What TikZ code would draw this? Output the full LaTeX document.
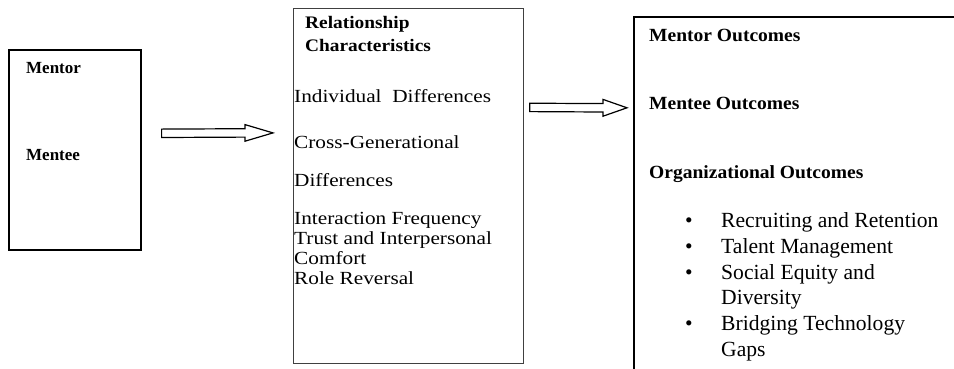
\documentclass[tikz,border=0pt]{standalone}
\usepackage{fontspec}
\setmainfont{Liberation Serif}
\newfontfamily\widebody[FakeStretch=1.15]{Liberation Serif}
\newfontfamily\widebold[FakeStretch=1.1]{Liberation Serif}
\newfontfamily\slightbold[FakeStretch=1.05]{Liberation Serif}
\usetikzlibrary{calc}
\begin{document}
\begin{tikzpicture}[x=1pt,y=-1pt,
  thickbox/.style={draw=black,line width=1.6pt,inner sep=0pt,anchor=north west},
  thinbox/.style={draw=black!75,line width=0.8pt,inner sep=0pt,anchor=north west},
  lbl/.style={anchor=base west,inner sep=0pt},
  smallbold/.style={lbl,font=\fontsize{17}{20}\selectfont\bfseries},
  relbold/.style={lbl,font=\widebold\fontsize{17.6}{20}\selectfont\bfseries},
  relbody/.style={lbl,font=\widebody\fontsize{18.5}{20}\selectfont},
  outbold/.style={lbl,font=\slightbold\fontsize{18.6}{20}\selectfont\bfseries},
  outbody/.style={lbl,font=\fontsize{21.6}{24}\selectfont},
  bul/.style={anchor=base,inner sep=0pt,font=\fontsize{21.6}{24}\selectfont},
  blockarrow/.style={draw=black,line width=1.2pt,fill=white,line join=miter}]
\useasboundingbox (0,0) rectangle (954,368);
\clip (0,0) rectangle (954,368);
% boxes
\node[thickbox,minimum width=132pt,minimum height=200pt] (b1) at (8,49) {};
\node[thinbox,minimum width=230pt,minimum height=355pt] (b2) at (293,8) {};
\node[thickbox,minimum width=340pt,minimum height=380pt] (b3) at (633,16) {};
% box 1 texts
\node[smallbold] (mentor) at (26,73) {Mentor};
\node[smallbold] (mentee) at (26,160) {Mentee};
% box 2 texts
\node[relbold] (rel1) at (305,28) {Relationship};
\node[relbold] (rel2) at (305,51) {Characteristics};
\node[relbody] (r1) at (294,102) {Individual\ \ Differences};
\node[relbody] (r2) at (294,148) {Cross-Generational};
\node[relbody] (r3) at (294,186) {Differences};
\node[relbody] (r4) at (294,224) {Interaction Frequency};
\node[relbody] (r5) at (294,244.3) {Trust and Interpersonal};
\node[relbody] (r6) at (294,264.3) {Comfort};
\node[relbody] (r7) at (294,284.3) {Role Reversal};
% box 3 texts
\node[outbold] (o1) at (649,41.7) {Mentor Outcomes};
\node[outbold] (o2) at (649,109.3) {Mentee Outcomes};
\node[outbold] (o3) at (649,178.3) {Organizational Outcomes};
\node[bul] (d1) at (689,227) {•};
\node[outbody] (l1) at (721,227) {Recruiting and Retention};
\node[bul] (d2) at (689,253) {•};
\node[outbody] (l2) at (721,253) {Talent Management};
\node[bul] (d3) at (689,279) {•};
\node[outbody] (l3) at (721,279) {Social Equity and};
\node[outbody] (l4) at (721,304.5) {Diversity};
\node[bul] (d4) at (689,330) {•};
\node[outbody] (l5) at (721,330) {Bridging Technology};
\node[outbody] (l6) at (721,356) {Gaps};
% block arrows
\coordinate (a1s) at ($(b1.east)+(20,-16.5)$);
\coordinate (a1e) at ($(b2.west)+(-20,-53)$);
\draw[blockarrow] ($(a1s)+(0,-4.2)$) -- ($(a1e)+(-28,-4.2)$) -- ($(a1e)+(-28,-8.3)$)
  -- (a1e) -- ($(a1e)+(-28,8.3)$) -- ($(a1e)+(-28,4.2)$) -- ($(a1s)+(0,4.2)$) -- cycle;
\coordinate (a2s) at ($(b2.east)+(6,-78.5)$);
\coordinate (a2e) at ($(b3.west)+(-6,-99)$);
\draw[blockarrow] ($(a2s)+(0,-4.2)$) -- ($(a2e)+(-24,-4.2)$) -- ($(a2e)+(-24,-8.4)$)
  -- (a2e) -- ($(a2e)+(-24,8.4)$) -- ($(a2e)+(-24,4.2)$) -- ($(a2s)+(0,4.2)$) -- cycle;
\end{tikzpicture}
\end{document}
